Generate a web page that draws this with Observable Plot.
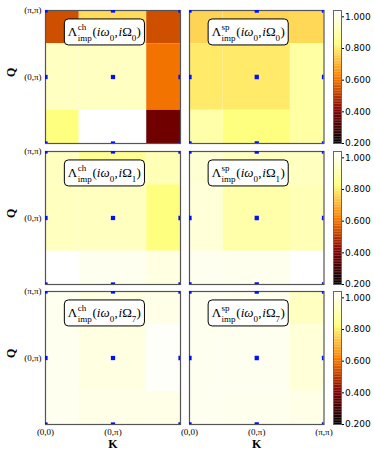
<!DOCTYPE html>
<html>
<head>
<meta charset="utf-8">
<script src="https://cdn.jsdelivr.net/npm/d3@7"></script>
<script src="https://cdn.jsdelivr.net/npm/@observablehq/plot@0.6"></script>
<style>
  html, body { margin: 0; padding: 0; background: white; }
  #chart { position: relative; width: 374px; height: 458px; background: white; overflow: hidden; }
  #chart svg { position: absolute; max-width: none; overflow: visible; }
</style>
</head>
<body>
<div id="chart"></div>
<script>
// ---------- data ----------
const kLabels = ["(0,0)", "(0,\u03c0)", "(\u03c0,\u03c0)"];
const qLabels = ["(0,0)", "(0,\u03c0)", "(\u03c0,\u03c0)"];
const channelNames = ["ch", "sp"];
const bosonIndex = ["0", "1", "7"];
const colorTicks = [0.2, 0.4, 0.6, 0.8, 1.0];
// each matrix: rows Q=(π,π), (0,π), (0,0) (top→bottom); columns K=(0,0), (0,π), (π,π)
const chOmega0 = [[0.54, 0.77, 0.54], [0.94, 0.94, 0.60], [0.83, 1.04, 0.385]];
const spOmega0 = [[0.76, 0.76, 0.765], [0.795, 0.795, 0.89], [0.90, 0.83, 0.89]];
const chOmega1 = [[0.935, 0.86, 0.92], [0.935, 0.935, 0.83], [1.04, 1.015, 0.99]];
const spOmega1 = [[0.97, 0.935, 0.935], [0.975, 0.90, 0.92], [1.015, 1.01, 1.04]];
const chOmega7 = [[1.015, 0.99, 1.0], [1.015, 0.99, 1.03], [1.015, 1.0, 1.0]];
const spOmega7 = [[1.015, 1.01, 0.94], [1.015, 1.015, 0.975], [1.015, 1.01, 1.0]];
const panels = [[chOmega0, spOmega0], [chOmega1, spOmega1], [chOmega7, spOmega7]];

// ---------- layout ----------
const colX = [[45, 180], [189, 323.5]];
const rowY = [10, 150.5, 290.6];
const panelH = 133;
const cbX = [333.3, 341.3];
const labelAt = {x: 0.88, y: 1.67};
const serif = "'Liberation Serif', 'DejaVu Serif', serif";
const sans = "'DejaVu Sans', sans-serif";

const clamp01 = v => Math.max(0, Math.min(1, v));
const afmhot = t => `rgb(${Math.round(255 * clamp01(2 * t))},${Math.round(255 * clamp01(2 * t - 0.5))},${Math.round(255 * clamp01(2 * t - 1))})`;
const colorOpts = {type: "linear", domain: [0.2, 1.04], interpolate: afmhot, clamp: true};

const chart = document.getElementById("chart");
const labelGroups = [];

function labelMark(kind, n) {
  return (index, scales) => {
    const cx = scales.x(labelAt.x), cy = scales.y(labelAt.y);
    const fs = 13, ss = 9;
    const g = d3.create("svg:g").attr("transform", `translate(${cx},${cy})`);
    const rect = g.append("rect").attr("y", -13).attr("height", 26).attr("x", -40).attr("width", 80)
      .attr("rx", 4).attr("fill", "white").attr("stroke", "black").attr("stroke-width", 1);
    const spec = [
      {t: "\u039b", size: fs},
      {t: kind, size: ss, dy: -6.3, stack: "sup"},
      {t: "imp", size: ss, dy: 4.5, stack: "sub"},
      {t: "(", size: fs, gap: 0.8},
      {t: "i", size: fs, italic: true},
      {t: "\u03c9", size: fs, italic: true},
      {t: "0", size: ss, dy: 4.3},
      {t: ",", size: fs, gap: 0.3},
      {t: "i", size: fs, italic: true, gap: 0.8},
      {t: "\u03a9", size: fs},
      {t: n, size: ss, dy: 4.3},
      {t: ")", size: fs, gap: 0.3}
    ];
    const parts = spec.map(p => ({p, node: g.append("text")
      .attr("text-anchor", "start")
      .attr("font-family", serif).attr("font-size", p.size).attr("font-weight", "normal")
      .attr("font-style", p.italic ? "italic" : "normal").attr("fill", "black")
      .attr("y", 4.3 + (p.dy || 0)).text(p.t).node()}));
    labelGroups.push({rect: rect.node(), parts});
    return g.node();
  };
}

function layoutLabels() {
  for (const {rect, parts} of labelGroups) {
    let x = 0, stackStart = 0, stackW = 0;
    for (const {p, node} of parts) {
      const w = node.getComputedTextLength();
      if (p.stack === "sup") { stackStart = x + 0.4; node.setAttribute("x", stackStart); stackW = w; continue; }
      if (p.stack === "sub") { node.setAttribute("x", stackStart); stackW = Math.max(stackW, w); x = stackStart + stackW; continue; }
      x += p.gap || 0;
      node.setAttribute("x", x);
      x += w;
    }
    const W = x, pad = 3.5;
    for (const {node} of parts) node.setAttribute("x", +node.getAttribute("x") - W / 2);
    rect.setAttribute("x", -W / 2 - pad);
    rect.setAttribute("width", W + 2 * pad);
  }
}

function place(svg, left, top) {
  svg.style.left = left + "px";
  svg.style.top = top + "px";
  chart.appendChild(svg);
}

for (let r = 0; r < 3; ++r) {
  for (let c = 0; c < 2; ++c) {
    const m = panels[r][c];
    const cells = [];
    m.forEach((row, ri) => row.forEach((v, k) => cells.push({k, q: 2 - ri, v})));
    const [x0, x1] = colX[c];
    const y0 = rowY[r];
    const ml = c === 0 ? 45 : 4, mr = 4, mt = 4, mb = r === 2 ? 36 : 4;
    const bottom = r === 2, left = c === 0;
    const svg = Plot.plot({
      width: (x1 - x0) + ml + mr,
      height: panelH + mt + mb,
      marginLeft: ml, marginRight: mr, marginTop: mt, marginBottom: mb,
      style: {fontFamily: serif, fontSize: "9px", background: "transparent", color: "black"},
      x: {domain: [0, 2], axis: bottom ? "bottom" : null, ticks: c === 0 ? [0, 1] : [0, 1, 2],
          tickFormat: i => kLabels[i], tickSize: 0, tickPadding: 4, label: null},
      y: {domain: [0, 2], axis: left ? "left" : null, ticks: [1, 2],
          tickFormat: i => qLabels[i], tickSize: 0, tickPadding: 4, label: null},
      color: colorOpts,
      marks: [
        Plot.rect(cells, {x1: d => d.k - 0.5, x2: d => d.k + 0.5, y1: d => d.q - 0.5, y2: d => d.q + 0.5, fill: "v", clip: true}),
        Plot.frame({stroke: "#555", strokeWidth: 1.2}),
        Plot.dot(cells, {x: "k", y: "q", symbol: "square", r: 2.4, fill: "#0010ff", stroke: "none", clip: true}),
        labelMark(channelNames[c], bosonIndex[r]),
        left ? Plot.text(["Q"], {text: d => d, frameAnchor: "left", dx: -34, rotate: -90, fontWeight: "bold", fontSize: 12, fontFamily: serif}) : null,
        bottom ? Plot.text(["K"], {text: d => d, frameAnchor: "bottom", dy: 23, fontWeight: "bold", fontSize: 12, fontFamily: serif}) : null
      ]
    });
    place(svg, x0 - ml, y0 - mt);
  }
  // colorbar
  const levels = d3.range(0.2, 1.04, 0.01);
  const cml = 2, cmr = 34, cmt = 4, cmb = 4;
  const cb = Plot.plot({
    width: (cbX[1] - cbX[0]) + cml + cmr,
    height: panelH + cmt + cmb,
    marginLeft: cml, marginRight: cmr, marginTop: cmt, marginBottom: cmb,
    style: {fontFamily: sans, fontSize: "9px", background: "transparent", color: "black"},
    y: {domain: [0.2, 1.04], axis: "right", ticks: colorTicks, tickFormat: d3.format(".3f"), tickSize: 2, tickPadding: 1.5, label: null},
    color: colorOpts,
    marks: [
      Plot.rect(levels, {y1: d => d, y2: d => Math.min(1.04, d + 0.0105), fill: d => d + 0.005}),
      Plot.frame({stroke: "#666", strokeWidth: 1})
    ]
  });
  place(cb, cbX[0] - cml, rowY[r] - cmt);
}
layoutLabels();
</script>
</body>
</html>
